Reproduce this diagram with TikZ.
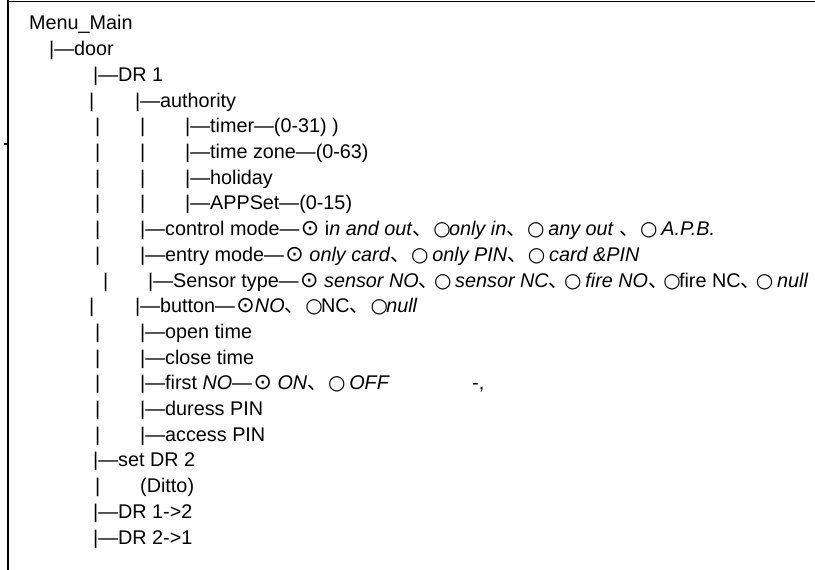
\documentclass[tikz,border=0pt]{standalone}
\usepackage{fontspec}
\setmainfont{Liberation Sans}
\newfontfamily\cjk{Noto Sans CJK SC}
\newfontfamily\sym{DejaVu Sans}
\newcommand{\sel}{\makebox[20pt][l]{\hspace{1.5pt}\sym\fontsize{22}{22}\selectfont ⊙}}
\newcommand{\unsel}{\makebox[14pt]{\sym\fontsize{20}{20}\selectfont ○}}
\newcommand{\dun}{\makebox[17pt][l]{\cjk 、}}
\tikzset{
  row/.style={anchor=base west, inner sep=0pt, font=\fontsize{19.8}{24}\selectfont},
}

\begin{document}
\begin{tikzpicture}[x=1pt, y=-1pt]
    \useasboundingbox (0,0) rectangle (815,570);
    % frame
    \draw[line width=1.3pt] (8,0) -- (8,570);
    \draw[line width=1.3pt] (8,1.5) -- (815,1.5);
    \draw[line width=1.3pt] (3.5,144) -- (8,144);

    % top levels
    \node[row] (menu) at (29,30) {Menu\_Main};
    \node[row] (door) at (49,55.7) {|—door};
    \node[row] (dr1) at (93,81.4) {|—DR 1};

    % side bars
    \node[row] (bar3) at (89,107.1) {|};
    \foreach \y [count=\i from 4] in {132.8,158.5,184.2,209.9} {
        \node[row] (barA\i) at (95,\y) {|};
        \node[row] (barB\i) at (140,\y) {|};
    }
    \foreach \y [count=\i from 8] in {235.6,261.3} {
        \node[row] (barA\i) at (95,\y) {|};
    }
    \node[row] (bar10) at (103,287) {|};
    \node[row] (bar11) at (89,312.7) {|};
    \foreach \y [count=\i from 12] in {338.4,364.1,389.8,415.5,441.2,492.6} {
        \node[row] (barA\i) at (95,\y) {|};
    }

    % DR 1 items
    \node[row] (auth) at (135,107.1) {|—authority};
    \node[row] (timer) at (185,132.8) {|—timer—(0-31) )};
    \node[row] (zone) at (185,158.5) {|—time zone—(0-63)};
    \node[row] (holiday) at (185,184.2) {|—holiday};
    \node[row] (appset) at (185,209.9) {|—APPSet—(0-15)};
    \node[row] (ctrl) at (140,235.6)
        {|—control mode—\sel{} i\textit{n and out}\dun{} \unsel\textit{only in}\dun{} \unsel{} \textit{any out} \dun{} \unsel{} \textit{A.P.B.}};
    \node[row] (entry) at (140,261.3)
        {|—entry mode—\sel{} \textit{only card}\dun{} \unsel{} \textit{only PIN}\dun{} \unsel{} \textit{card \&PIN}};
    \node[row] (sensor) at (148,287)
        {|—Sensor type—\sel{} \textit{sensor NO}\dun\unsel{} \textit{sensor NC}\dun\unsel{} \textit{fire NO}\dun\unsel fire NC\dun\unsel{} \textit{null}};
    \node[row] (button) at (135,312.7) {|—button—\sel\textit{NO}\dun{} \unsel NC\dun{} \unsel\textit{null}};
    \node[row] (open) at (140,338.4) {|—open time};
    \node[row] (close) at (140,364.1) {|—close time};
    \node[row] (first) at (140,389.8) {|—first \textit{NO}—\sel{} \textit{ON}\dun{} \unsel{} \textit{OFF}};
    \node[row] (mark) at (472,389.8) {-,};
    \node[row] (duress) at (140,415.5) {|—duress PIN};
    \node[row] (access) at (140,441.2) {|—access PIN};

    % other doors
    \node[row] (setdr2) at (93,466.9) {|—set DR 2};
    \node[row] (ditto) at (140,492.6) {(Ditto)};
    \node[row] (dr12) at (93,518.3) {|—DR 1->2};
    \node[row] (dr21) at (93,544) {|—DR 2->1};
\end{tikzpicture}
\end{document}
